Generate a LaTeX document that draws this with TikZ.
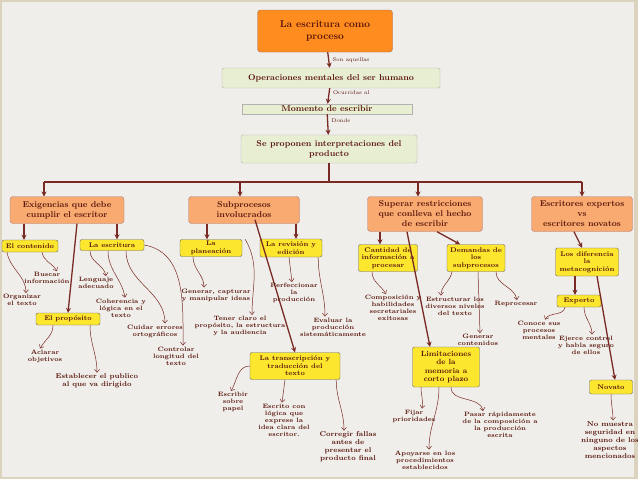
\documentclass[tikz,border=0pt]{standalone}
\usetikzlibrary{arrows.meta}
\definecolor{bgc}{HTML}{EFEEEA}
\definecolor{frame}{HTML}{DCD3BE}
\definecolor{txt}{HTML}{5A160C}
\definecolor{arr}{HTML}{7A2A25}
\definecolor{topo}{HTML}{FF8C1E}
\definecolor{lgreen}{HTML}{E8EED2}
\definecolor{lorange}{HTML}{F8AA70}
\definecolor{yel}{HTML}{FCE62E}
\tikzset{
 base/.style={font=\bfseries, text=txt, align=center, inner sep=1pt},
 topbox/.style={base, fill=topo, draw=arr!70, rounded corners=3pt, minimum width=135pt, minimum height=42pt, font=\bfseries\fontsize{10}{12}\selectfont},
 greenbox/.style={base, fill=lgreen, draw=gray!60, rounded corners=2pt, font=\bfseries\fontsize{8.5}{10}\selectfont},
 orbox/.style={base, fill=lorange, draw=arr!60, rounded corners=3pt, font=\bfseries\fontsize{8.5}{10}\selectfont},
 ybox/.style={base, fill=yel, draw=black!60, rounded corners=2pt, font=\bfseries\fontsize{6.8}{7.6}\selectfont},
 leaf/.style={base, font=\bfseries\fontsize{6.3}{7}\selectfont},
 lab/.style={text=txt, font=\fontsize{5.5}{6}\selectfont, anchor=west},
 thick arrow/.style={draw=arr, line width=1.3pt, -{Stealth[length=5pt,width=5pt]}},
 thin arrow/.style={draw=arr, line width=0.5pt, -{Straight Barb[length=3pt,width=5pt]}},
}
\begin{document}
\begin{tikzpicture}[x=1pt,y=-1pt]
\fill[frame] (0,0) rectangle (638,479);
\fill[bgc] (2,2) rectangle (634,477);
\useasboundingbox (0,0) rectangle (638,479);
% top
\node[topbox] (top) at (325,31) {La escritura como\\proceso};
\node[greenbox, minimum width=218pt, minimum height=20pt] (ops) at (331,78) {Operaciones mentales del ser humano};
\node[greenbox, minimum width=170pt, minimum height=10pt, inner sep=0pt, rounded corners=0pt] (mom) at (327,109) {Momento de escribir};
\node[greenbox, minimum width=176pt, minimum height=28pt] (se) at (329,149) {Se proponen interpretaciones del\\producto};
\draw[thick arrow] (top) -- node[lab, right]{Son aquellas} (ops);
\draw[thick arrow] (ops) -- node[lab, right, pos=0.3]{Ocurridas al} (mom);
\draw[thick arrow] (mom) -- node[lab, right, pos=0.3]{Donde} (se);
% level 2
\node[orbox, minimum width=114pt, minimum height=27pt] (exi) at (67,210) {Exigencias que debe\\cumplir el escritor};
\node[orbox, minimum width=111pt, minimum height=27pt] (sub) at (244,210) {Subprocesos\\involucrados};
\node[orbox, minimum width=115pt, minimum height=35pt] (sup) at (425,214) {Superar restricciones\\que conlleva el hecho\\de escribir};
\node[orbox, minimum width=101pt, minimum height=35pt] (esc) at (582,214) {Escritores expertos\\vs\\escritores novatos};
\coordinate (hub) at (329,182);
\draw[draw=arr, line width=1.3pt] (se.south) -- (hub);
\draw[draw=arr, line width=1.3pt] (44,182) -- (582,182);
\foreach \n/\x in {exi/44, sub/240, sup/418, esc/582}
  \draw[thick arrow] (\x,182) -- (\x,196.5);
% yellow
\node[ybox, minimum width=56pt, minimum height=12pt] (con) at (30,246) {El contenido};
\node[ybox, minimum width=64pt, minimum height=11pt] (escr) at (112,245) {La escritura};
\node[ybox, minimum width=64pt, minimum height=12pt] (pro) at (68,319) {El propósito};
\node[ybox, minimum width=62pt, minimum height=17pt] (pla) at (211,248) {La\\planeación};
\node[ybox, minimum width=62pt, minimum height=18pt] (rev) at (291,248) {La revisión y\\edición};
\node[ybox, minimum width=90pt, minimum height=27pt] (tra) at (295,366) {La transcripción y\\traducción del\\texto};
\node[ybox, minimum width=59pt, minimum height=27pt] (can) at (388,258) {Cantidad de\\información a\\procesar};
\node[ybox, minimum width=58pt, minimum height=27pt] (dem) at (476,258) {Demandas de\\los\\subprocesos};
\node[ybox, minimum width=67pt, minimum height=40pt, font=\bfseries\fontsize{7.5}{8.5}\selectfont] (lim) at (446,367) {Limitaciones\\de la\\memoria a\\corto plazo};
\node[ybox, minimum width=63pt, minimum height=28pt] (dif) at (587,262) {Los diferencia\\la\\metacognición};
\node[ybox, minimum width=44pt, minimum height=12pt] (exp) at (579,301) {Experto};
\node[ybox, minimum width=43pt, minimum height=14pt] (nov) at (611,387) {Novato};
% thick connectors
\draw[thick arrow] ([xshift=-43pt]exi.south) -- (con.north -| 24,0);
\draw[thick arrow] ([xshift=50pt]exi.south) -- (escr.north -| 117,0);
\draw[thick arrow] ([xshift=10pt]exi.south) -- (pro.north);
\draw[thick arrow] ([xshift=-37pt]sub.south) -- (pla.north -| 207,0);
\draw[thick arrow] ([xshift=52pt]sub.south) -- (rev.north -| 296,0);
\draw[thick arrow] ([xshift=11pt,yshift=4pt]sub.south) -- (tra.north);
\draw[thick arrow] ([xshift=-45pt]sup.south) -- (can.north -| 380,0);
\draw[thick arrow] ([xshift=-18pt]sup.south) -- (lim.north -| 430,0);
\draw[thick arrow] ([xshift=12pt]sup.south) -- (dem.north -| 460,0);
\draw[thick arrow] ([xshift=-8pt]esc.south) -- (dif.north -| 582,0);
\draw[thick arrow] ([xshift=-12pt]dif.south) -- (exp.north -| 575,0);
\draw[thick arrow] ([xshift=10pt]dif.south) -- (nov.north -| 615,0);
% leaves
\node[leaf] (l1) at (47,278) {Buscar\\información};
\node[leaf] (l2) at (22,300) {Organizar\\el texto};
\node[leaf] (l3) at (96,283) {Lenguaje\\adecuado};
\node[leaf] (l4) at (121,308) {Coherencia y\\lógica en el\\texto};
\node[leaf] (l5) at (155,331) {Cuidar errores\\ortográficos};
\node[leaf] (l6) at (176,356) {Controlar\\longitud del\\texto};
\node[leaf] (l7) at (45,356) {Aclarar\\objetivos};
\node[leaf, font=\bfseries\fontsize{7}{8}\selectfont] (l8) at (97,381) {Establecer el publico\\al que va dirigido};
\node[leaf] (l9) at (216,295) {Generar, capturar\\y manipular ideas};
\node[leaf] (l10) at (240,326) {Tener claro el\\propósito, la estructura\\y la audiencia};
\node[leaf] (l11) at (294,293) {Perfeccionar\\la\\producción};
\node[leaf] (l12) at (333,327) {Evaluar la\\producción\\sistemáticamente};
\node[leaf] (l13) at (233,402) {Escribir\\sobre\\papel};
\node[leaf] (l14) at (284,420) {Escrito con\\lógica que\\exprese la\\idea clara del\\escritor.};
\node[leaf, font=\bfseries\fontsize{7}{8}\selectfont] (l15) at (348,447) {Corregir fallas\\antes de\\presentar el\\producto final};
\node[leaf] (l16) at (393,308) {Composición y\\habilidades\\secretariales\\exitosas};
\node[leaf] (l17) at (455,306) {Estructurar los\\diversos niveles\\del texto};
\node[leaf] (l18) at (516,304) {Reprocesar};
\node[leaf] (l19) at (478,340) {Generar\\contenidos};
\node[leaf] (l20) at (414,416) {Fijar\\prioridades};
\node[leaf] (l21) at (425,460) {Apoyarse en los\\procedimientos\\establecidos};
\node[leaf] (l22) at (500,425) {Pasar rápidamente\\de la composición a\\la producción\\escrita};
\node[leaf] (l23) at (539,330) {Conoce sus\\procesos\\mentales};
\node[leaf] (l24) at (586,345) {Ejerce control\\y habla seguro\\de ellos};
\node[leaf, font=\bfseries\fontsize{7}{8}\selectfont] (l25) at (610,440) {No muestra\\seguridad en\\ninguno de los\\aspectos\\mencionados};
% thin connectors
\draw[thin arrow] ([xshift=12pt]con.south) to[out=-80,in=120] ([xshift=10pt]l1.north);
\draw[thin arrow] ([xshift=-23pt]con.south) to[out=-80,in=90] ([xshift=4pt]l2.north);
\draw[thin arrow] ([xshift=-22pt]escr.south) to[out=-90,in=100] ([xshift=10pt]l3.north);
\draw[thin arrow] ([xshift=-4pt]escr.south) to[out=-90,in=100] ([xshift=4pt]l4.north);
\draw[thin arrow] ([xshift=14pt]escr.south) to[out=-90,in=90] ([xshift=10pt]l5.north);
\draw[thin arrow] (escr.east) to[out=-10,in=90] ([xshift=7pt]l6.north);
\draw[thin arrow] ([xshift=-15pt]pro.south) to[out=-90,in=60] ([xshift=-5pt]l7.north);
\draw[thin arrow] ([xshift=22pt]pro.south) to[out=-90,in=90] (l8.north);
\draw[thin arrow] ([xshift=-18pt]pla.south) to[out=-90,in=90] ([xshift=-12pt]l9.north);
\draw[thin arrow] ([xshift=3pt]pla.north east) to[out=-60,in=90] ([xshift=12pt]l10.north);
\draw[thin arrow] ([xshift=-2pt]rev.south) -- ([xshift=-2pt]l11.north);
\draw[thin arrow] ([xshift=-4pt]rev.south east) to[out=-90,in=90] ([xshift=-8pt]l12.north);
\draw[thin arrow] (tra.west) to[out=180,in=60] ([xshift=-2pt]l13.north);
\draw[thin arrow] ([xshift=-10pt]tra.south) -- ([xshift=-2pt]l14.north);
\draw[thin arrow] ([xshift=-4pt]tra.south east) to[out=-90,in=90] ([xshift=-4pt]l15.north);
\draw[thin arrow] ([xshift=-16pt]can.south) to[out=-90,in=120] ([xshift=-7pt]l16.north);
\draw[thin arrow] ([xshift=-24pt]dem.south) to[out=-100,in=90] ([xshift=-14pt]l17.north);
\draw[thin arrow] ([xshift=2pt]dem.south) -- ([xshift=2pt]l19.north);
\draw[thin arrow] ([xshift=20pt]dem.south) to[out=-90,in=100] ([xshift=1pt]l18.north);
\draw[thin arrow] ([xshift=-25pt]lim.south) to[out=-90,in=80] ([xshift=8pt]l20.north);
\draw[thin arrow] ([xshift=-7pt]lim.south) to[out=-90,in=90] ([xshift=4pt]l21.north);
\draw[thin arrow] ([xshift=5pt]lim.south) to[out=-90,in=100] ([xshift=-17pt]l22.north);
\draw[thin arrow] ([xshift=-14pt]exp.south) to[out=-100,in=60] ([xshift=6pt]l23.north);
\draw[thin arrow] ([xshift=5pt]exp.south) to[out=-90,in=90] ([xshift=6pt]l24.north);
\draw[thin arrow] (nov.south) to[out=-90,in=90] ([xshift=3pt]l25.north);
\end{tikzpicture}
\end{document}
